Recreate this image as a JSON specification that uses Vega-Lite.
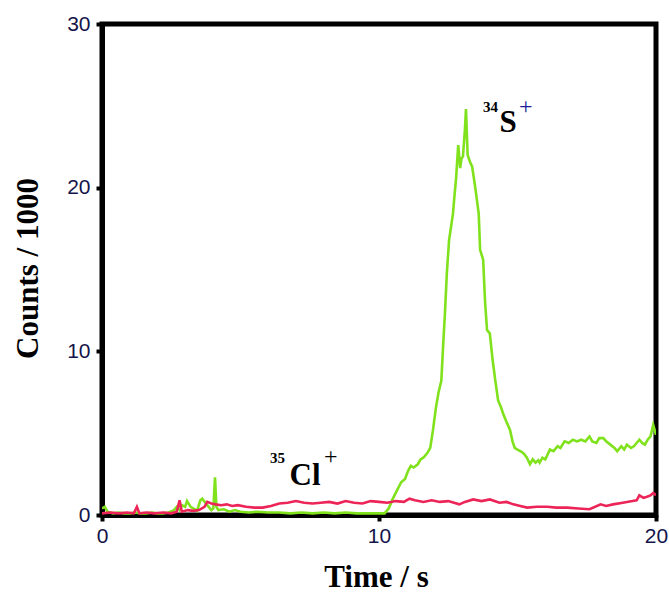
{
  "$schema": "https://vega.github.io/schema/vega-lite/v6.json",
  "width": 554,
  "height": 491,
  "autosize": "none",
  "padding": {"left": 102, "top": 24, "right": 13, "bottom": 78},
  "background": "white",
  "config": {
    "view": {"stroke": "black", "strokeWidth": 5},
    "axis": {
      "grid": false,
      "domainColor": "black",
      "domainWidth": 5,
      "tickColor": "black",
      "tickWidth": 4,
      "tickSize": 6,
      "labelFlush": false,
      "labelFont": "Liberation Sans",
      "labelFontSize": 21,
      "labelColor": "#14144a",
      "titleFont": "Liberation Serif",
      "titleFontSize": 31,
      "titleFontWeight": "bold",
      "titleColor": "black"
    }
  },
  "datasets": {
    "signal": [
      {"t": 0.0, "v": 0.4, "s": "S"}, {"t": 0.1, "v": 0.5, "s": "S"}, {"t": 0.2, "v": 0.2, "s": "S"}, {"t": 0.4, "v": 0.1, "s": "S"},
      {"t": 0.6, "v": 0.15, "s": "S"}, {"t": 0.8, "v": 0.1, "s": "S"}, {"t": 1.0, "v": 0.1, "s": "S"}, {"t": 1.2, "v": 0.15, "s": "S"},
      {"t": 1.4, "v": 0.1, "s": "S"}, {"t": 1.6, "v": 0.1, "s": "S"}, {"t": 1.8, "v": 0.15, "s": "S"}, {"t": 2.0, "v": 0.1, "s": "S"},
      {"t": 2.2, "v": 0.1, "s": "S"}, {"t": 2.4, "v": 0.15, "s": "S"}, {"t": 2.6, "v": 0.3, "s": "S"}, {"t": 2.7, "v": 0.5, "s": "S"},
      {"t": 2.8, "v": 0.3, "s": "S"}, {"t": 2.9, "v": 0.6, "s": "S"}, {"t": 3.0, "v": 0.5, "s": "S"}, {"t": 3.07, "v": 0.85, "s": "S"},
      {"t": 3.2, "v": 0.5, "s": "S"}, {"t": 3.35, "v": 0.35, "s": "S"}, {"t": 3.43, "v": 0.25, "s": "S"}, {"t": 3.55, "v": 0.9, "s": "S"},
      {"t": 3.62, "v": 1.0, "s": "S"}, {"t": 3.75, "v": 0.7, "s": "S"}, {"t": 3.85, "v": 0.5, "s": "S"}, {"t": 3.95, "v": 0.3, "s": "S"},
      {"t": 4.02, "v": 0.4, "s": "S"}, {"t": 4.08, "v": 2.3, "s": "S"}, {"t": 4.13, "v": 0.5, "s": "S"}, {"t": 4.2, "v": 0.3, "s": "S"},
      {"t": 4.4, "v": 0.35, "s": "S"}, {"t": 4.6, "v": 0.2, "s": "S"}, {"t": 4.8, "v": 0.3, "s": "S"}, {"t": 5.0, "v": 0.2, "s": "S"},
      {"t": 5.3, "v": 0.15, "s": "S"}, {"t": 5.6, "v": 0.2, "s": "S"}, {"t": 6.0, "v": 0.15, "s": "S"}, {"t": 6.4, "v": 0.15, "s": "S"},
      {"t": 6.8, "v": 0.1, "s": "S"}, {"t": 7.2, "v": 0.15, "s": "S"}, {"t": 7.6, "v": 0.1, "s": "S"}, {"t": 8.0, "v": 0.15, "s": "S"},
      {"t": 8.4, "v": 0.1, "s": "S"}, {"t": 8.8, "v": 0.15, "s": "S"}, {"t": 9.2, "v": 0.1, "s": "S"}, {"t": 9.6, "v": 0.1, "s": "S"},
      {"t": 10.0, "v": 0.1, "s": "S"}, {"t": 10.2, "v": 0.1, "s": "S"}, {"t": 10.35, "v": 0.4, "s": "S"}, {"t": 10.5, "v": 1.0, "s": "S"},
      {"t": 10.65, "v": 1.5, "s": "S"}, {"t": 10.8, "v": 2.0, "s": "S"}, {"t": 10.94, "v": 2.2, "s": "S"}, {"t": 11.05, "v": 2.7, "s": "S"},
      {"t": 11.15, "v": 3.0, "s": "S"}, {"t": 11.25, "v": 2.9, "s": "S"}, {"t": 11.4, "v": 3.1, "s": "S"}, {"t": 11.5, "v": 3.4, "s": "S"},
      {"t": 11.6, "v": 3.5, "s": "S"}, {"t": 11.75, "v": 3.8, "s": "S"}, {"t": 11.85, "v": 4.1, "s": "S"}, {"t": 11.95, "v": 5.2, "s": "S"},
      {"t": 12.05, "v": 6.5, "s": "S"}, {"t": 12.15, "v": 7.5, "s": "S"}, {"t": 12.25, "v": 8.2, "s": "S"}, {"t": 12.32, "v": 10.5, "s": "S"},
      {"t": 12.38, "v": 12.3, "s": "S"}, {"t": 12.45, "v": 14.8, "s": "S"}, {"t": 12.53, "v": 16.8, "s": "S"}, {"t": 12.6, "v": 17.6, "s": "S"},
      {"t": 12.67, "v": 18.4, "s": "S"}, {"t": 12.73, "v": 19.6, "s": "S"}, {"t": 12.78, "v": 20.5, "s": "S"}, {"t": 12.86, "v": 22.6, "s": "S"},
      {"t": 12.93, "v": 21.2, "s": "S"}, {"t": 12.98, "v": 21.8, "s": "S"}, {"t": 13.03, "v": 21.9, "s": "S"}, {"t": 13.1, "v": 23.5, "s": "S"},
      {"t": 13.14, "v": 24.8, "s": "S"}, {"t": 13.2, "v": 22.0, "s": "S"}, {"t": 13.28, "v": 21.6, "s": "S"}, {"t": 13.36, "v": 21.3, "s": "S"},
      {"t": 13.45, "v": 20.3, "s": "S"}, {"t": 13.5, "v": 19.7, "s": "S"}, {"t": 13.6, "v": 18.4, "s": "S"}, {"t": 13.65, "v": 16.2, "s": "S"},
      {"t": 13.76, "v": 15.6, "s": "S"}, {"t": 13.83, "v": 13.0, "s": "S"}, {"t": 13.9, "v": 11.3, "s": "S"}, {"t": 14.0, "v": 11.1, "s": "S"},
      {"t": 14.1, "v": 9.5, "s": "S"}, {"t": 14.2, "v": 8.2, "s": "S"}, {"t": 14.3, "v": 7.0, "s": "S"}, {"t": 14.4, "v": 6.6, "s": "S"},
      {"t": 14.48, "v": 6.2, "s": "S"}, {"t": 14.6, "v": 5.7, "s": "S"}, {"t": 14.73, "v": 5.2, "s": "S"}, {"t": 14.82, "v": 4.5, "s": "S"},
      {"t": 14.9, "v": 4.1, "s": "S"}, {"t": 15.0, "v": 4.0, "s": "S"}, {"t": 15.16, "v": 3.85, "s": "S"}, {"t": 15.25, "v": 3.7, "s": "S"},
      {"t": 15.34, "v": 3.5, "s": "S"}, {"t": 15.45, "v": 3.1, "s": "S"}, {"t": 15.55, "v": 3.4, "s": "S"}, {"t": 15.65, "v": 3.2, "s": "S"},
      {"t": 15.75, "v": 3.35, "s": "S"}, {"t": 15.8, "v": 3.2, "s": "S"}, {"t": 15.9, "v": 3.5, "s": "S"}, {"t": 16.0, "v": 3.4, "s": "S"},
      {"t": 16.06, "v": 3.6, "s": "S"}, {"t": 16.17, "v": 4.0, "s": "S"}, {"t": 16.3, "v": 3.9, "s": "S"}, {"t": 16.45, "v": 4.2, "s": "S"},
      {"t": 16.55, "v": 4.1, "s": "S"}, {"t": 16.7, "v": 4.5, "s": "S"}, {"t": 16.85, "v": 4.4, "s": "S"}, {"t": 17.0, "v": 4.6, "s": "S"},
      {"t": 17.15, "v": 4.5, "s": "S"}, {"t": 17.3, "v": 4.6, "s": "S"}, {"t": 17.45, "v": 4.5, "s": "S"}, {"t": 17.6, "v": 4.8, "s": "S"},
      {"t": 17.7, "v": 4.5, "s": "S"}, {"t": 17.85, "v": 4.4, "s": "S"}, {"t": 17.95, "v": 4.7, "s": "S"}, {"t": 18.1, "v": 4.7, "s": "S"},
      {"t": 18.2, "v": 4.5, "s": "S"}, {"t": 18.35, "v": 4.3, "s": "S"}, {"t": 18.5, "v": 4.1, "s": "S"}, {"t": 18.6, "v": 3.9, "s": "S"},
      {"t": 18.75, "v": 4.2, "s": "S"}, {"t": 18.85, "v": 4.0, "s": "S"}, {"t": 18.95, "v": 4.3, "s": "S"}, {"t": 19.1, "v": 4.1, "s": "S"},
      {"t": 19.2, "v": 4.2, "s": "S"}, {"t": 19.3, "v": 4.4, "s": "S"}, {"t": 19.4, "v": 4.6, "s": "S"}, {"t": 19.5, "v": 4.4, "s": "S"},
      {"t": 19.6, "v": 4.3, "s": "S"}, {"t": 19.7, "v": 4.6, "s": "S"}, {"t": 19.8, "v": 4.8, "s": "S"}, {"t": 19.9, "v": 5.5, "s": "S"},
      {"t": 20.0, "v": 4.9, "s": "S"},
      {"t": 0.0, "v": 0.1, "s": "Cl"}, {"t": 0.3, "v": 0.15, "s": "Cl"}, {"t": 0.6, "v": 0.1, "s": "Cl"}, {"t": 0.9, "v": 0.15, "s": "Cl"},
      {"t": 1.15, "v": 0.1, "s": "Cl"}, {"t": 1.26, "v": 0.5, "s": "Cl"}, {"t": 1.35, "v": 0.1, "s": "Cl"}, {"t": 1.6, "v": 0.15, "s": "Cl"},
      {"t": 1.9, "v": 0.1, "s": "Cl"}, {"t": 2.2, "v": 0.15, "s": "Cl"}, {"t": 2.5, "v": 0.1, "s": "Cl"}, {"t": 2.7, "v": 0.2, "s": "Cl"},
      {"t": 2.8, "v": 0.9, "s": "Cl"}, {"t": 2.88, "v": 0.2, "s": "Cl"}, {"t": 3.1, "v": 0.3, "s": "Cl"}, {"t": 3.3, "v": 0.25, "s": "Cl"},
      {"t": 3.5, "v": 0.3, "s": "Cl"}, {"t": 3.7, "v": 0.5, "s": "Cl"}, {"t": 3.8, "v": 0.8, "s": "Cl"}, {"t": 3.95, "v": 0.7, "s": "Cl"},
      {"t": 4.1, "v": 0.65, "s": "Cl"}, {"t": 4.3, "v": 0.6, "s": "Cl"}, {"t": 4.5, "v": 0.65, "s": "Cl"}, {"t": 4.7, "v": 0.55, "s": "Cl"},
      {"t": 4.9, "v": 0.6, "s": "Cl"}, {"t": 5.2, "v": 0.5, "s": "Cl"}, {"t": 5.5, "v": 0.45, "s": "Cl"}, {"t": 5.8, "v": 0.45, "s": "Cl"},
      {"t": 6.1, "v": 0.55, "s": "Cl"}, {"t": 6.4, "v": 0.7, "s": "Cl"}, {"t": 6.7, "v": 0.75, "s": "Cl"}, {"t": 7.0, "v": 0.85, "s": "Cl"},
      {"t": 7.3, "v": 0.75, "s": "Cl"}, {"t": 7.6, "v": 0.7, "s": "Cl"}, {"t": 7.9, "v": 0.75, "s": "Cl"}, {"t": 8.2, "v": 0.8, "s": "Cl"},
      {"t": 8.5, "v": 0.7, "s": "Cl"}, {"t": 8.8, "v": 0.85, "s": "Cl"}, {"t": 9.1, "v": 0.75, "s": "Cl"}, {"t": 9.4, "v": 0.7, "s": "Cl"},
      {"t": 9.7, "v": 0.85, "s": "Cl"}, {"t": 10.0, "v": 0.8, "s": "Cl"}, {"t": 10.3, "v": 0.75, "s": "Cl"}, {"t": 10.6, "v": 0.85, "s": "Cl"},
      {"t": 10.9, "v": 0.8, "s": "Cl"}, {"t": 11.1, "v": 1.0, "s": "Cl"}, {"t": 11.3, "v": 0.9, "s": "Cl"}, {"t": 11.6, "v": 0.8, "s": "Cl"},
      {"t": 11.9, "v": 0.9, "s": "Cl"}, {"t": 12.2, "v": 0.8, "s": "Cl"}, {"t": 12.5, "v": 0.85, "s": "Cl"}, {"t": 12.9, "v": 0.65, "s": "Cl"},
      {"t": 13.1, "v": 0.8, "s": "Cl"}, {"t": 13.4, "v": 0.95, "s": "Cl"}, {"t": 13.7, "v": 0.85, "s": "Cl"}, {"t": 14.0, "v": 0.95, "s": "Cl"},
      {"t": 14.35, "v": 0.75, "s": "Cl"}, {"t": 14.6, "v": 0.8, "s": "Cl"}, {"t": 14.85, "v": 0.65, "s": "Cl"}, {"t": 15.1, "v": 0.55, "s": "Cl"},
      {"t": 15.35, "v": 0.45, "s": "Cl"}, {"t": 15.7, "v": 0.5, "s": "Cl"}, {"t": 16.07, "v": 0.5, "s": "Cl"}, {"t": 16.4, "v": 0.45, "s": "Cl"},
      {"t": 16.8, "v": 0.45, "s": "Cl"}, {"t": 17.2, "v": 0.4, "s": "Cl"}, {"t": 17.6, "v": 0.35, "s": "Cl"}, {"t": 18.0, "v": 0.65, "s": "Cl"},
      {"t": 18.2, "v": 0.55, "s": "Cl"}, {"t": 18.45, "v": 0.65, "s": "Cl"}, {"t": 18.8, "v": 0.75, "s": "Cl"}, {"t": 19.15, "v": 0.85, "s": "Cl"},
      {"t": 19.3, "v": 0.9, "s": "Cl"}, {"t": 19.4, "v": 1.2, "s": "Cl"}, {"t": 19.55, "v": 1.05, "s": "Cl"}, {"t": 19.65, "v": 1.1, "s": "Cl"},
      {"t": 19.8, "v": 1.2, "s": "Cl"}, {"t": 19.9, "v": 1.35, "s": "Cl"}, {"t": 20.0, "v": 1.2, "s": "Cl"}
    ],
    "labels": [
      {"t": 14.66, "v": 23.4, "iso": "34", "el": "S", "ch": "+"},
      {"t": 7.33, "v": 1.83, "iso": "35", "el": "Cl", "ch": "+"}
    ]
  },
  "layer": [
    {
      "data": {"name": "signal"},
      "mark": {"type": "line", "strokeWidth": 2.6, "clip": true},
      "encoding": {
        "x": {
          "field": "t", "type": "quantitative",
          "scale": {"domain": [0, 20], "nice": false},
          "axis": {"values": [0, 10, 20], "title": "Time / s", "labelPadding": 4, "titleX": 274, "titleY": 71, "titleAlign": "center", "titleBaseline": "alphabetic"}
        },
        "y": {
          "field": "v", "type": "quantitative",
          "scale": {"domain": [0, 30], "nice": false},
          "axis": {"values": [0, 10, 20, 30], "title": "Counts / 1000", "labelPadding": 6, "titleX": -65, "titleY": 244, "titleAngle": -90, "titleAlign": "center", "titleBaseline": "alphabetic"}
        },
        "color": {
          "field": "s", "type": "nominal",
          "scale": {"domain": ["Cl", "S"], "range": ["#ec2458", "#80e21c"]},
          "legend": null
        },
        "order": {"field": "t", "type": "quantitative"}
      }
    },
    {
      "data": {"name": "labels"},
      "mark": {"type": "text", "font": "Liberation Serif", "fontWeight": "bold", "fontSize": 31, "align": "center", "baseline": "alphabetic", "color": "black"},
      "encoding": {
        "x": {"field": "t", "type": "quantitative"},
        "y": {"field": "v", "type": "quantitative"},
        "text": {"field": "el"}
      }
    },
    {
      "data": {"name": "labels"},
      "transform": [{"filter": "datum.el == 'S'"}],
      "mark": {"type": "text", "font": "Liberation Serif", "fontWeight": "bold", "fontSize": 15, "align": "right", "baseline": "alphabetic", "dx": -10, "dy": -20, "color": "black"},
      "encoding": {
        "x": {"field": "t", "type": "quantitative"},
        "y": {"field": "v", "type": "quantitative"},
        "text": {"field": "iso"}
      }
    },
    {
      "data": {"name": "labels"},
      "transform": [{"filter": "datum.el == 'S'"}],
      "mark": {"type": "text", "font": "Liberation Serif", "fontSize": 24, "align": "left", "baseline": "alphabetic", "dx": 11, "dy": -18, "color": "#1a1a9a"},
      "encoding": {
        "x": {"field": "t", "type": "quantitative"},
        "y": {"field": "v", "type": "quantitative"},
        "text": {"field": "ch"}
      }
    },
    {
      "data": {"name": "labels"},
      "transform": [{"filter": "datum.el == 'Cl'"}],
      "mark": {"type": "text", "font": "Liberation Serif", "fontWeight": "bold", "fontSize": 15, "align": "right", "baseline": "alphabetic", "dx": -20, "dy": -22, "color": "black"},
      "encoding": {
        "x": {"field": "t", "type": "quantitative"},
        "y": {"field": "v", "type": "quantitative"},
        "text": {"field": "iso"}
      }
    },
    {
      "data": {"name": "labels"},
      "transform": [{"filter": "datum.el == 'Cl'"}],
      "mark": {"type": "text", "font": "Liberation Serif", "fontSize": 24, "align": "left", "baseline": "alphabetic", "dx": 19, "dy": -21, "color": "black"},
      "encoding": {
        "x": {"field": "t", "type": "quantitative"},
        "y": {"field": "v", "type": "quantitative"},
        "text": {"field": "ch"}
      }
    }
  ]
}
